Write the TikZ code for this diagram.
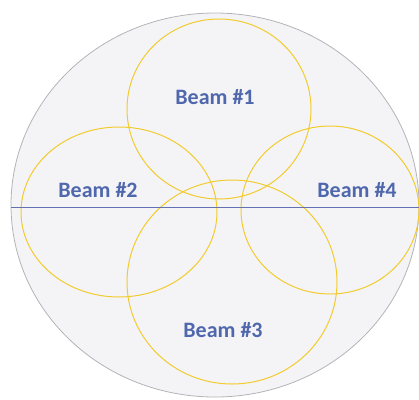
\documentclass[tikz,border=0pt]{standalone}
\usepackage{fontspec}
\setmainfont{Carlito}
\usetikzlibrary{positioning, shapes.geometric}
\definecolor{beamblue}{HTML}{4F67AC}
\definecolor{beamyellow}{HTML}{F2CB2E}
\definecolor{cellgray}{HTML}{F4F4F7}
\definecolor{rimgray}{HTML}{B4B4B8}
\definecolor{axisblue}{HTML}{6470B4}

\begin{document}
\begin{tikzpicture}[x=1pt, y=-1pt,
    beam/.style={ellipse, draw=beamyellow, line width=1pt, inner sep=0pt},
    beamlabel/.style={text=beamblue, font=\fontsize{22}{26}\selectfont\bfseries}]
  \useasboundingbox (0,0) rectangle (419,399);
  \clip (0,0) rectangle (419,399);
  % coverage area
  \node[ellipse, draw=rimgray, fill=cellgray, line width=0.8pt, inner sep=0pt,
        minimum width=408pt, minimum height=384pt] (cell) at (215,205) {};
  % beams
  \node[beam, minimum width=184pt, minimum height=180pt] (b1) at (219,109) {};
  \node[beam, minimum width=196pt, minimum height=170pt] (b2) at (119,212) {};
  \node[beam, minimum width=210pt, minimum height=204pt] (b3) at (232,282) {};
  \node[beam, minimum width=178pt, minimum height=168pt] (b4) at (330,210) {};
  % axis
  \coordinate (axisW) at (11,207);
  \coordinate (axisE) at (419,207);
  \draw[axisblue, line width=0.9pt] (axisW) -- (axisE);
  % labels
  \node[beamlabel] (l1) at (215,97) {Beam \#1};
  \node[beamlabel] (l2) at (98,190) {Beam \#2};
  \node[beamlabel] (l3) at (223,330) {Beam \#3};
  \node[beamlabel] (l4) at (357,190) {Beam \#4};
\end{tikzpicture}
\end{document}
